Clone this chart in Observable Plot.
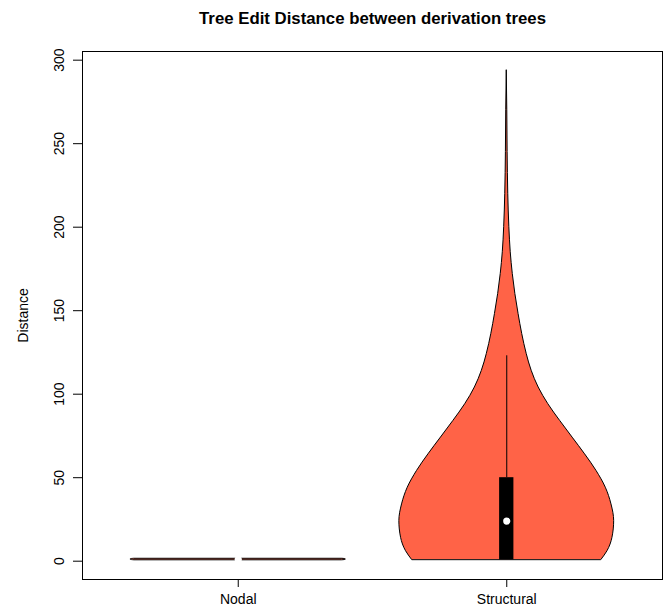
<!DOCTYPE html>
<html>
<head>
<meta charset="utf-8">
<script src="https://cdn.jsdelivr.net/npm/d3@7"></script>
<script src="https://cdn.jsdelivr.net/npm/@observablehq/plot@0.6"></script>
<style>
  html, body { margin: 0; padding: 0; background: #fff; }
</style>
</head>
<body>
<div id="chart"></div>
<script>
// Categories and tick values
const categories = ["Nodal", "Structural"];
const yTicks = [0, 50, 100, 150, 200, 250, 300];

// Violin density profiles (value along y, relative density)
const nodalValues = [0.55, 0.8, 1.0, 1.2, 1.45];
const nodalDensity = [0.97, 1.0, 1.0, 1.0, 0.97];

const structValues = [0.8, 6, 14, 24, 34, 44, 54, 64, 74, 84, 94, 104, 114, 124, 136, 148, 160, 172, 185, 200, 220, 245, 270, 294];
const structDensity = [0.882, 0.938, 0.984, 1.0, 0.975, 0.922, 0.836, 0.729, 0.613, 0.497, 0.387, 0.297, 0.232, 0.186, 0.144, 0.110, 0.080, 0.056, 0.037, 0.024, 0.014, 0.008, 0.005, 0];

// Box-plot summaries: [q1, median, q3, upper whisker]
const nodalBox = [1, 1, 1, 1];
const structBox = [0.8, 24, 50, 123];

const violinHalf = 0.4;   // max half-width in x units
const boxHalf = 0.0266;   // box half-width in x units

const violins = [
  {pos: 1, values: nodalValues, dens: nodalDensity, box: nodalBox},
  {pos: 2, values: structValues, dens: structDensity, box: structBox}
];

const marks = [];
for (const v of violins) {
  const rows = v.values.map((y, i) => ({y, d: v.dens[i], c: v.pos}));
  marks.push(Plot.areaX(rows, {
    y: "y",
    x1: r => r.c - r.d * violinHalf,
    x2: r => r.c + r.d * violinHalf,
    fill: "tomato",
    stroke: "black",
    strokeWidth: 1,
    curve: "monotone-y"
  }));
}
for (const v of violins) {
  const [q1, med, q3, wh] = v.box;
  if (wh > q3) {
    marks.push(Plot.ruleX([v], {x: "pos", y1: q3, y2: wh, stroke: "black", strokeWidth: 1}));
  }
  if (q3 > q1) {
    marks.push(Plot.rect([v], {x1: d => d.pos - boxHalf, x2: d => d.pos + boxHalf, y1: q1, y2: q3, fill: "black"}));
  }
  marks.push(Plot.dot([v], {x: "pos", y: med, r: 3.6, fill: "white", stroke: "none"}));
}

marks.push(Plot.frame({stroke: "black", strokeWidth: 1}));
marks.push(Plot.axisY({ticks: yTicks, tickSize: 9, tickRotate: -90, tickPadding: 10, label: null, fontSize: 14}));
marks.push(Plot.axisX({ticks: [1, 2], tickFormat: d => categories[d - 1], tickSize: 8, tickPadding: 7, label: null, fontSize: 14}));
marks.push(Plot.text(["Tree Edit Distance between derivation trees"], {
  frameAnchor: "top", dy: -33, lineAnchor: "middle", textAnchor: "middle",
  fontSize: 16.8, fontWeight: "bold", fill: "black"
}));
marks.push(Plot.text(["Distance"], {
  frameAnchor: "left", dx: -59, rotate: -90, textAnchor: "middle", lineAnchor: "middle",
  fontSize: 14, fill: "black"
}));

const chart = Plot.plot({
  width: 667,
  height: 614,
  marginLeft: 82,
  marginRight: 5,
  marginTop: 51,
  marginBottom: 35,
  style: {fontFamily: "'Liberation Sans', Arial, Helvetica, sans-serif", fontSize: "14px", color: "black", background: "white"},
  x: {type: "linear", domain: [0.42, 2.58], axis: null},
  y: {domain: [-10.96, 305.2], axis: null},
  marks
});
document.getElementById("chart").appendChild(chart);
</script>
</body>
</html>
